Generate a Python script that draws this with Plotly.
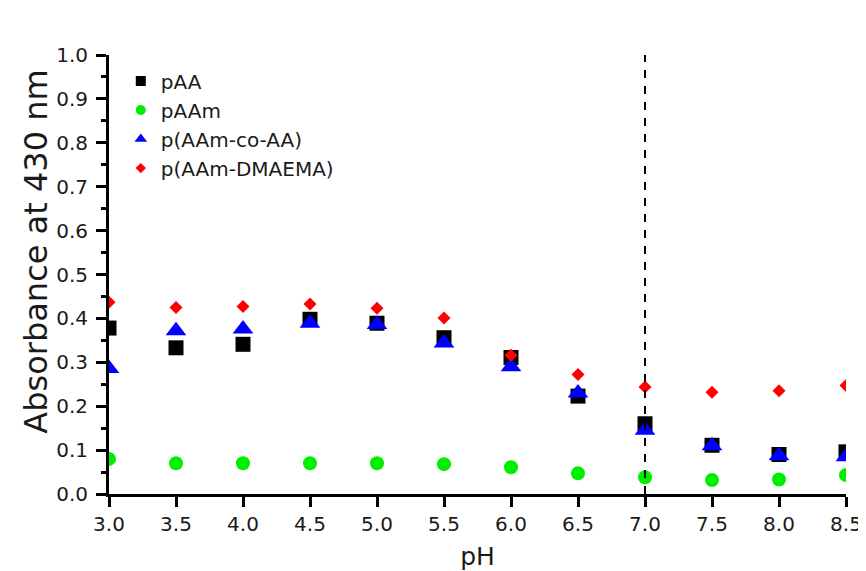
import plotly.graph_objects as go

ph = [3.0, 3.5, 4.0, 4.5, 5.0, 5.5, 6.0, 6.5, 7.0, 7.5, 8.0, 8.5]
paa = [0.378, 0.333, 0.341, 0.398, 0.389, 0.356, 0.311, 0.223, 0.160, 0.111, 0.090, 0.096]
paam = [0.080, 0.070, 0.070, 0.070, 0.070, 0.068, 0.061, 0.047, 0.038, 0.032, 0.033, 0.043]
paam_co_aa = [0.286, 0.372, 0.376, 0.389, 0.386, 0.344, 0.290, 0.230, 0.145, 0.110, 0.087, 0.085]
paam_dmaema = [0.437, 0.425, 0.427, 0.433, 0.423, 0.401, 0.316, 0.272, 0.244, 0.232, 0.235, 0.247]

series_names = ["pAA", "pAAm", "p(AAm-co-AA)", "p(AAm-DMAEMA)"]
x_ticks = [3.0, 3.5, 4.0, 4.5, 5.0, 5.5, 6.0, 6.5, 7.0, 7.5, 8.0, 8.5]
threshold_ph = 7.0
y_title = "Absorbance at 430 nm"
x_title = "pH"

FONT = "DejaVu Sans, Liberation Sans, Arial, sans-serif"
TXT = "#1a1a1a"

styles = [
    dict(symbol="square", color="#000000", size=15, lsize=10),
    dict(symbol="circle", color="#00ee00", size=14, lsize=10),
    dict(symbol="triangle-up", color="#0000ff", size=18, lsize=11),
    dict(symbol="diamond", color="#ff0000", size=10, lsize=8),
]
datasets = [paa, paam, paam_co_aa, paam_dmaema]

fig = go.Figure()
for name, ys, st in zip(series_names, datasets, styles):
    fig.add_trace(go.Scatter(
        x=ph, y=ys, mode="markers", name=name, showlegend=False,
        marker=dict(symbol=st["symbol"], color=st["color"], size=st["size"], line=dict(width=0)),
    ))
for name, st in zip(series_names, styles):
    fig.add_trace(go.Scatter(
        x=[None], y=[None], mode="markers", name=name, showlegend=True,
        marker=dict(symbol=st["symbol"], color=st["color"], size=st["lsize"], line=dict(width=0)),
    ))

fig.add_shape(type="line", x0=threshold_ph, x1=threshold_ph, y0=0, y1=1,
              xref="x", yref="paper", layer="above",
              line=dict(color="black", width=2, dash="8px,8px"))

fig.add_annotation(text=y_title, textangle=-90, xref="paper", yref="paper",
                   x=0, y=0.552, xanchor="center", yanchor="middle", xshift=-73,
                   showarrow=False, font=dict(size=32, family=FONT, color=TXT))

fig.update_layout(
    width=866, height=571,
    margin=dict(l=101, r=17, t=47, b=82),
    paper_bgcolor="white", plot_bgcolor="white",
    font=dict(family=FONT, color=TXT),
    legend=dict(x=0.016, y=0.985, xanchor="left", yanchor="top",
                font=dict(size=20, family=FONT, color=TXT),
                bgcolor="rgba(0,0,0,0)", tracegroupgap=0, itemsizing="trace"),
    xaxis=dict(range=[3.0, 8.5], tickvals=x_ticks, tickformat=".1f",
               showgrid=False, zeroline=False, showline=True, linecolor="black", linewidth=3,
               ticks="outside", ticklen=10, tickwidth=3, tickcolor="black",
               tickfont=dict(size=20, family=FONT, color=TXT),
               title=dict(text=x_title, font=dict(size=25, family=FONT, color=TXT), standoff=13)),
    yaxis=dict(range=[0, 1.0], dtick=0.1, tick0=0, tickformat=".1f",
               showgrid=False, zeroline=False, showline=True, linecolor="black", linewidth=3,
               ticks="outside", ticklen=10, tickwidth=3, tickcolor="black", ticklabelstandoff=4,
               minor=dict(dtick=0.05, ticks="outside", ticklen=5, tickwidth=3, tickcolor="black", showgrid=False),
               tickfont=dict(size=20, family=FONT, color=TXT)),
)

fig.write_html("out.html")
